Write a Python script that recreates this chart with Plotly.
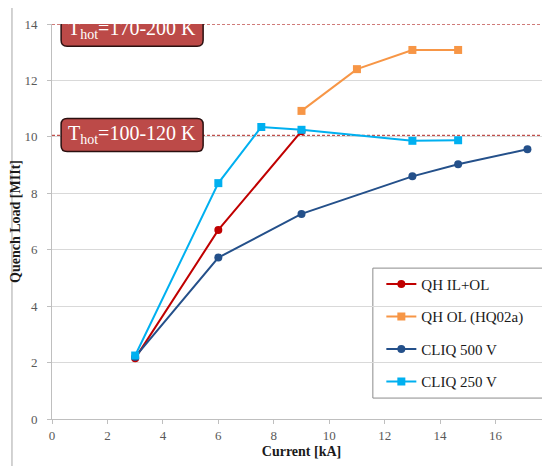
import plotly.graph_objects as go

# Data
red_x = [3, 6, 9]
red_y = [2.15, 6.7, 10.2]
orange_x = [9, 11, 13, 14.65]
orange_y = [10.92, 12.4, 13.08, 13.08]
dblue_x = [3, 6, 9, 13, 14.65, 17.15]
dblue_y = [2.2, 5.72, 7.27, 8.6, 9.03, 9.56]
cyan_x = [3, 6, 7.55, 9, 13, 14.65]
cyan_y = [2.25, 8.36, 10.35, 10.25, 9.86, 9.88]

names = ["QH IL+OL", "QH OL (HQ02a)", "CLIQ 500 V", "CLIQ 250 V"]
thresholds = [14.0, 10.05]
box_labels = ["T<sub>hot</sub>=170-200 K", "T<sub>hot</sub>=100-120 K"]
box_y = [13.8, 10.07]

SERIF = "Liberation Serif"

fig = go.Figure()
series = [
    (red_x, red_y, "#c00000", "circle", names[0]),
    (orange_x, orange_y, "#f79646", "square", names[1]),
    (dblue_x, dblue_y, "#24508a", "circle", names[2]),
    (cyan_x, cyan_y, "#00b0f0", "square", names[3]),
]
for i, (x, y, c, sym, nm) in enumerate(series):
    fig.add_trace(go.Scatter(
        x=x, y=y, name=nm, mode="lines+markers",
        line=dict(color=c, width=2),
        marker=dict(color=c, symbol=sym, size=8),
        legendgroup=f"g{i}",
    ))

shapes = []
# outer chart frame
shapes.append(dict(type="rect", xref="paper", yref="paper",
                   x0=-0.0802, x1=1.2, y0=-0.3, y1=1.043,
                   line=dict(color="#a6a6a6", width=1), layer="below"))
# legend box
shapes.append(dict(type="rect", xref="paper", yref="paper",
                   x0=0.643, x1=1.2, y0=0.053, y1=0.382,
                   line=dict(color="#8c8c8c", width=1), fillcolor="white", layer="below"))
for t in thresholds:
    shapes.append(dict(type="line", xref="x", yref="y", x0=0, x1=18, y0=t, y1=t,
                       line=dict(color="#c0504d", width=1.5, dash="3px,2px"), layer="below"))

annotations = []
for lab, yy in zip(box_labels, box_y):
    w, h, r = 142, 33, 6
    x0, y0 = -w / 2, -h / 2
    x1, y1 = w / 2, h / 2
    path = (f"M {x0+r},{y0} L {x1-r},{y0} Q {x1},{y0} {x1},{y0+r} "
            f"L {x1},{y1-r} Q {x1},{y1} {x1-r},{y1} L {x0+r},{y1} "
            f"Q {x0},{y1} {x0},{y1-r} L {x0},{y0+r} Q {x0},{y0} {x0+r},{y0} Z")
    shapes.append(dict(type="path", xref="x", yref="y",
                       xsizemode="pixel", ysizemode="pixel",
                       xanchor=2.89, yanchor=yy, path=path,
                       fillcolor="#bc4a48", line=dict(color="#2b1010", width=1.5),
                       layer="above"))
    annotations.append(dict(x=2.89, y=yy, xref="x", yref="y", text=lab,
                            showarrow=False,
                            font=dict(family=SERIF, size=20, color="white")))

fig.update_layout(
    width=550, height=466,
    margin=dict(l=44, r=7, t=16, b=55, autoexpand=False),
    paper_bgcolor="white", plot_bgcolor="white",
    shapes=shapes, annotations=annotations,
    font=dict(family=SERIF, color="#595959"),
    legend=dict(x=0.66, y=0.383, xanchor="left", yanchor="top",
                bgcolor="rgba(0,0,0,0)", borderwidth=0,
                font=dict(family=SERIF, size=15, color="#1a1a1a"),
                tracegroupgap=10, itemwidth=30),
    xaxis=dict(range=[0, 18], dtick=2, showgrid=False, automargin=False,
               showline=True, linecolor="#bfbfbf", linewidth=1,
               ticks="outside", ticklen=4, tickcolor="#bfbfbf",
               tickfont=dict(family=SERIF, size=13, color="#595959"),
               title=dict(text="<b>Current [kA]</b>", standoff=4,
                          font=dict(family=SERIF, size=14, color="#1a1a1a")),
               zeroline=False, fixedrange=True),
    yaxis=dict(range=[0, 14], dtick=2, showgrid=True, gridcolor="#d9d9d9",
               automargin=False, ticklabelstandoff=7,
               showline=True, linecolor="#bfbfbf", linewidth=1,
               ticks="outside", ticklen=4, tickcolor="#bfbfbf",
               tickfont=dict(family=SERIF, size=13, color="#595959"),
               title=dict(text="<b>Quench Load [MIIt]</b>", standoff=2,
                          font=dict(family=SERIF, size=14, color="#1a1a1a")),
               zeroline=False, fixedrange=True),
)

fig.write_html("out.html")
